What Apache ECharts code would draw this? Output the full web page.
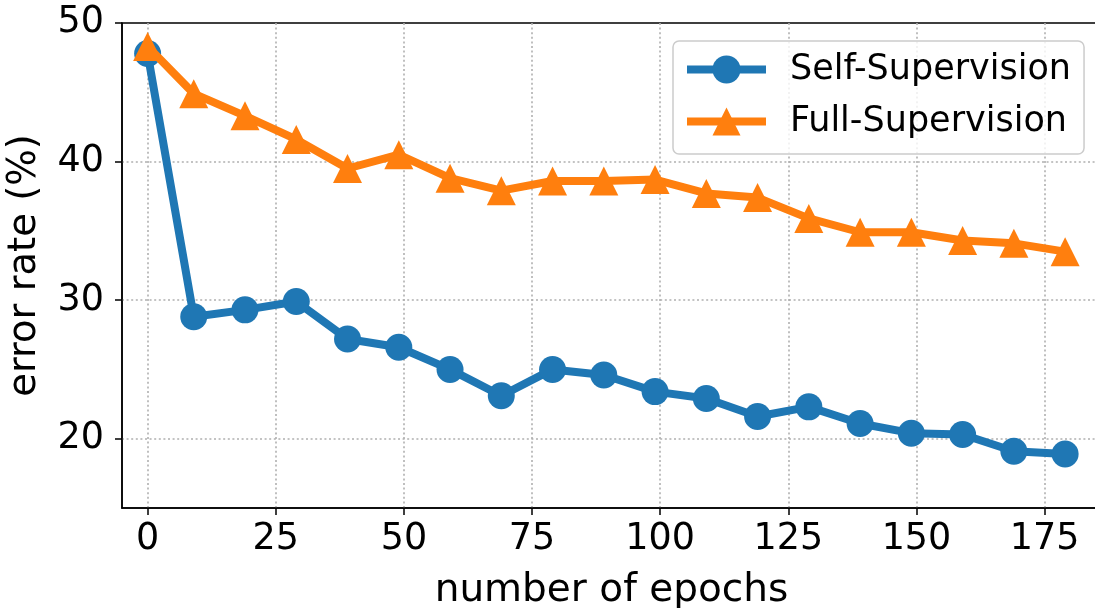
<!DOCTYPE html>
<html>
<head>
<meta charset="utf-8">
<script src="https://cdn.jsdelivr.net/npm/echarts@6/dist/echarts.min.js"></script>
<style>
  html, body { margin: 0; padding: 0; background: #fff; }
  #chart { width: 1095px; height: 608px; }
</style>
</head>
<body>
<div id="chart"></div>
<script>
// Training epochs at which error rate was evaluated
const epochs = [0, 9, 19, 29, 39, 49, 59, 69, 79, 89, 99, 109, 119, 129, 139, 149, 159, 169, 179];

// Error rate (%) per epoch
const selfSupervision = [47.8, 28.8, 29.3, 29.9, 27.2, 26.6, 25.0, 23.1, 25.0, 24.6, 23.4, 22.9, 21.6, 22.3, 21.1, 20.4, 20.3, 19.1, 18.9];
const fullSupervision = [48.3, 44.9, 43.3, 41.6, 39.5, 40.5, 38.8, 37.9, 38.6, 38.6, 38.7, 37.7, 37.4, 35.9, 34.9, 34.9, 34.3, 34.1, 33.5];

// Axis ticks
const xTicks = [0, 25, 50, 75, 100, 125, 150, 175];
const yTicks = [20, 30, 40, 50];

const FONT = 'DejaVu Sans';
const BLUE = '#1f77b4';
const ORANGE = '#ff7f0e';

const chart = echarts.init(document.getElementById('chart'), null, { renderer: 'canvas' });

const gridLineStyle = { color: '#b0b0b0', width: 1.6, type: [2, 2.6] };

chart.setOption({
  animation: false,
  backgroundColor: '#fff',
  grid: {
    left: 122, top: 23, right: -6, bottom: 100,
    outerBoundsMode: 'none',
    containLabel: false,
    show: true, borderColor: '#000', borderWidth: 1.5, backgroundColor: 'transparent'
  },
  legend: {
    left: 673, top: 41,
    orient: 'vertical',
    backgroundColor: 'rgba(255,255,255,0.8)',
    borderColor: '#cccccc', borderWidth: 1.5, borderRadius: 6,
    padding: [11, 13, 15, 10],
    itemWidth: 79, itemHeight: 35, itemGap: 17,
    lineStyle: { width: 8 },
    textStyle: { fontFamily: FONT, fontSize: 35, color: '#000', padding: [0, 0, 0, 19] },
    data: ['Self-Supervision', 'Full-Supervision']
  },
  xAxis: {
    type: 'value',
    min: -5, max: 186,
    name: 'number of epochs',
    nameLocation: 'middle',
    nameGap: 63,
    nameTextStyle: { fontFamily: FONT, fontSize: 39, color: '#000' },
    axisLine: { show: true, onZero: false, lineStyle: { color: '#000', width: 1.5 } },
    axisTick: { show: true, inside: false, length: 7, customValues: xTicks, lineStyle: { color: '#000', width: 1.5 } },
    axisLabel: { customValues: xTicks, margin: 13, fontFamily: FONT, fontSize: 36.5, color: '#000' },
    splitLine: { show: true, lineStyle: gridLineStyle }
  },
  yAxis: {
    type: 'value',
    min: 15, max: 50,
    name: 'error rate (%)',
    nameLocation: 'middle',
    nameGap: 78,
    nameRotate: 90,
    nameTextStyle: { fontFamily: FONT, fontSize: 38.5, color: '#000' },
    axisLine: { show: true, onZero: false, lineStyle: { color: '#000', width: 1.5 } },
    axisTick: { show: true, inside: false, length: 7, customValues: yTicks, lineStyle: { color: '#000', width: 1.5 } },
    axisLabel: { customValues: yTicks, margin: 18, fontFamily: FONT, fontSize: 36.5, color: '#000' },
    splitLine: { show: true, showMaxLine: false, lineStyle: gridLineStyle }
  },
  series: [
    {
      name: 'Self-Supervision',
      type: 'line',
      data: epochs.map((e, i) => [e, selfSupervision[i]]),
      symbol: 'circle',
      symbolSize: 27,
      lineStyle: { color: BLUE, width: 8 },
      itemStyle: { color: BLUE },
      z: 2
    },
    {
      name: 'Full-Supervision',
      type: 'line',
      data: epochs.map((e, i) => [e, fullSupervision[i]]),
      symbol: 'triangle',
      symbolSize: 29,
      lineStyle: { color: ORANGE, width: 8 },
      itemStyle: { color: ORANGE },
      z: 3
    }
  ]
});
</script>
</body>
</html>
